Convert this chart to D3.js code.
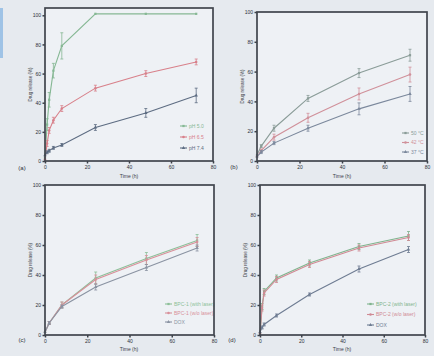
<!DOCTYPE html>
<html>
<head>
<meta charset="utf-8">
<script src="https://cdn.jsdelivr.net/npm/d3@7"></script>
<style>
  body { margin: 0; background: #e6eaef; }
  svg { display: block; font-family: "Liberation Sans", Arial, sans-serif; }
</style>
</head>
<body>
<svg id="chart" width="434" height="356"></svg>
<script>
// release data (time in h, release in %)
var timeA = [0, 1, 2, 4, 8, 24, 48, 72];
var a1 = [2, 25, 42, 62, 79, 101, 101, 101];
var a1err = [0, 4, 5, 5, 9, 0, 0, 0];
var a2 = [1, 12, 21, 28, 36, 50, 60, 68];
var a2err = [0, 2, 2, 2, 2, 2, 2, 2];
var a3 = [4, 6, 7, 9, 11, 23, 33, 45];
var a3err = [0, 1, 1, 1, 1, 2, 3, 5];

var timeB = [0, 2, 8, 24, 48, 72];
var b1 = [4, 10, 22, 42, 59, 71];
var b1err = [0, 1, 2, 2, 3, 4];
var b2 = [3, 7, 16, 29, 45, 58];
var b2err = [0, 1, 2, 3, 4, 5];
var b3 = [3, 6, 12, 22, 35, 45];
var b3err = [0, 1, 1, 2, 4, 5];

var timeC = [0, 2, 8, 24, 48, 72];
var c1 = [2, 8, 20, 38, 51, 63];
var c1err = [0, 1, 2, 4, 4, 4];
var c2 = [2, 8, 20, 37, 50, 62];
var c2err = [0, 1, 2, 3, 3, 3];
var c3 = [2, 8, 19, 32, 45, 58];
var c3err = [0, 1, 1, 2, 2, 2];

var timeD = [0, 1, 2, 8, 24, 48, 72];
var d1 = [1, 19, 29, 38, 48, 59, 66];
var d1err = [0, 2, 2, 2, 2, 2, 3];
var d2 = [1, 18, 28, 37, 47, 58, 65];
var d2err = [0, 2, 2, 2, 2, 2, 2];
var d3s = [2, 5, 7, 13, 27, 44, 57];
var d3err = [0, 1, 1, 1, 1, 2, 2];

var xTicks = [0, 20, 40, 60, 80];
var yTicks = [0, 20, 40, 60, 80, 100];
var labelsA = ["pH 5.0", "pH 6.5", "pH 7.4"];
var labelsB = ["50 °C", "42 °C", "37 °C"];
var labelsC = ["BPC-1 (with laser)", "BPC-1 (w/o laser)", "DOX"];
var labelsD = ["BPC-2 (with laser)", "BPC-2 (w/o laser)", "DOX"];

var svg = d3.select("#chart");

// faint blue strip at the left edge of the photo
svg.append("rect").attr("x", 0).attr("y", 8).attr("width", 3).attr("height", 50)
  .attr("fill", "#9fc3e6");

var panels = [
  { tag: "(a)", box: [45, 213, 8, 161], ymax: 105, t: timeA,
    series: [[a1, a1err, "#86b894"], [a2, a2err, "#d8808a"], [a3, a3err, "#5d6c82"]],
    labels: labelsA, leg: [180, 126, 11], title: [129, 178], tagpos: [22, 170] },
  { tag: "(b)", box: [257, 427, 12, 161], ymax: 100, t: timeB,
    series: [[b1, b1err, "#8a9c98"], [b2, b2err, "#d0909a"], [b3, b3err, "#7b889c"]],
    labels: labelsB, leg: [402, 133, 9.5], title: [342, 178], tagpos: [234, 169] },
  { tag: "(c)", box: [45, 214, 185, 335], ymax: 100, t: timeC,
    series: [[c1, c1err, "#8cbf98"], [c2, c2err, "#d8909a"], [c3, c3err, "#8a93a2"]],
    labels: labelsC, leg: [165, 304, 9], title: [129, 351], tagpos: [22, 342] },
  { tag: "(d)", box: [260, 425, 185, 335], ymax: 100, t: timeD,
    series: [[d1, d1err, "#7fb38c"], [d2, d2err, "#d08a94"], [d3s, d3err, "#6e7c92"]],
    labels: labelsD, leg: [367, 304, 10.5], title: [342, 351], tagpos: [232, 342] }
];

panels.forEach(function(p) {
  var x = d3.scaleLinear().domain([0, 80]).range([p.box[0], p.box[1]]);
  var y = d3.scaleLinear().domain([0, p.ymax]).range([p.box[3], p.box[2]]);
  var g = svg.append("g");

  g.append("rect").attr("x", p.box[0]).attr("y", p.box[2])
    .attr("width", p.box[1] - p.box[0]).attr("height", p.box[3] - p.box[2])
    .attr("fill", "#eef1f5");

  var line = d3.line().x(function(d) { return x(d[0]); }).y(function(d) { return y(d[1]); });

  p.series.forEach(function(s, si) {
    var pts = p.t.map(function(t, i) { return [t, s[0][i], s[1][i]]; });
    var sg = g.append("g").attr("stroke", s[2]).attr("fill", "none");
    sg.append("path").attr("d", line(pts)).attr("stroke-width", 1.1);
    sg.selectAll("line.err").data(pts.filter(function(d) { return d[2] > 0; }))
      .enter().append("line").attr("class", "err")
      .attr("x1", function(d) { return x(d[0]); }).attr("x2", function(d) { return x(d[0]); })
      .attr("y1", function(d) { return y(d[1] - d[2]); })
      .attr("y2", function(d) { return y(Math.min(d[1] + d[2], p.ymax)); })
      .attr("stroke-width", 0.8);
    sg.selectAll("line.cap").data(pts.filter(function(d) { return d[2] > 0; }))
      .enter().append("path").attr("class", "cap")
      .attr("d", function(d) {
        var cx = x(d[0]);
        return "M" + (cx - 1.5) + "," + y(d[1] - d[2]) + "h3M" + (cx - 1.5) + "," +
          y(Math.min(d[1] + d[2], p.ymax)) + "h3";
      })
      .attr("stroke-width", 0.8);
    sg.selectAll("path.mk").data(pts).enter().append("path").attr("class", "mk")
      .attr("transform", function(d) { return "translate(" + x(d[0]) + "," + y(d[1]) + ")"; })
      .attr("d", d3.symbol().type([d3.symbolSquare, d3.symbolCircle, d3.symbolTriangle][si]).size(5))
      .attr("fill", s[2]).attr("stroke", "none");

    // legend entry
    var ly = p.leg[1] + si * p.leg[2];
    g.append("line").attr("x1", p.leg[0]).attr("x2", p.leg[0] + 7)
      .attr("y1", ly).attr("y2", ly).attr("stroke", s[2]).attr("stroke-width", 1.1);
    g.append("path").attr("transform", "translate(" + (p.leg[0] + 3.5) + "," + ly + ")")
      .attr("d", d3.symbol().type([d3.symbolSquare, d3.symbolCircle, d3.symbolTriangle][si]).size(5))
      .attr("fill", s[2]);
    g.append("text").attr("x", p.leg[0] + 9).attr("y", ly + 1.8)
      .attr("font-size", 5).attr("fill", s[2]).text(p.labels[si]);
  });

  // axes
  g.append("g").attr("transform", "translate(0," + p.box[3] + ")")
    .call(d3.axisBottom(x).tickValues(xTicks).tickSize(2.5).tickPadding(2))
    .call(function(a) {
      a.select(".domain").remove();
      a.selectAll("line").attr("stroke", "#3c4048").attr("stroke-width", 1.5);
      a.selectAll("text").attr("font-size", 5).attr("fill", "#2c3038");
    });
  g.append("g").attr("transform", "translate(" + p.box[0] + ",0)")
    .call(d3.axisLeft(y).tickValues(yTicks).tickSize(2.5).tickPadding(1.5))
    .call(function(a) {
      a.select(".domain").remove();
      a.selectAll("line").attr("stroke", "#3c4048").attr("stroke-width", 1.5);
      a.selectAll("text").attr("font-size", 5).attr("fill", "#2c3038");
    });

  g.append("rect").attr("x", p.box[0]).attr("y", p.box[2])
    .attr("width", p.box[1] - p.box[0]).attr("height", p.box[3] - p.box[2])
    .attr("fill", "none").attr("stroke", "#40454d").attr("stroke-width", 1.7);

  g.append("text").attr("transform", "translate(" + (p.box[0] - 13) + "," + ((p.box[2] + p.box[3]) / 2) + ") rotate(-90)")
    .attr("text-anchor", "middle").attr("font-size", 4.5).attr("fill", "#3a3e46")
    .text("Drug release (%)");
  g.append("text").attr("x", p.title[0]).attr("y", p.title[1])
    .attr("text-anchor", "middle").attr("font-size", 5).attr("fill", "#3a3e46")
    .text("Time (h)");
  g.append("text").attr("x", p.tagpos[0]).attr("y", p.tagpos[1])
    .attr("text-anchor", "middle").attr("font-size", 6).attr("fill", "#2c3038")
    .text(p.tag);
});
</script>
</body>
</html>
